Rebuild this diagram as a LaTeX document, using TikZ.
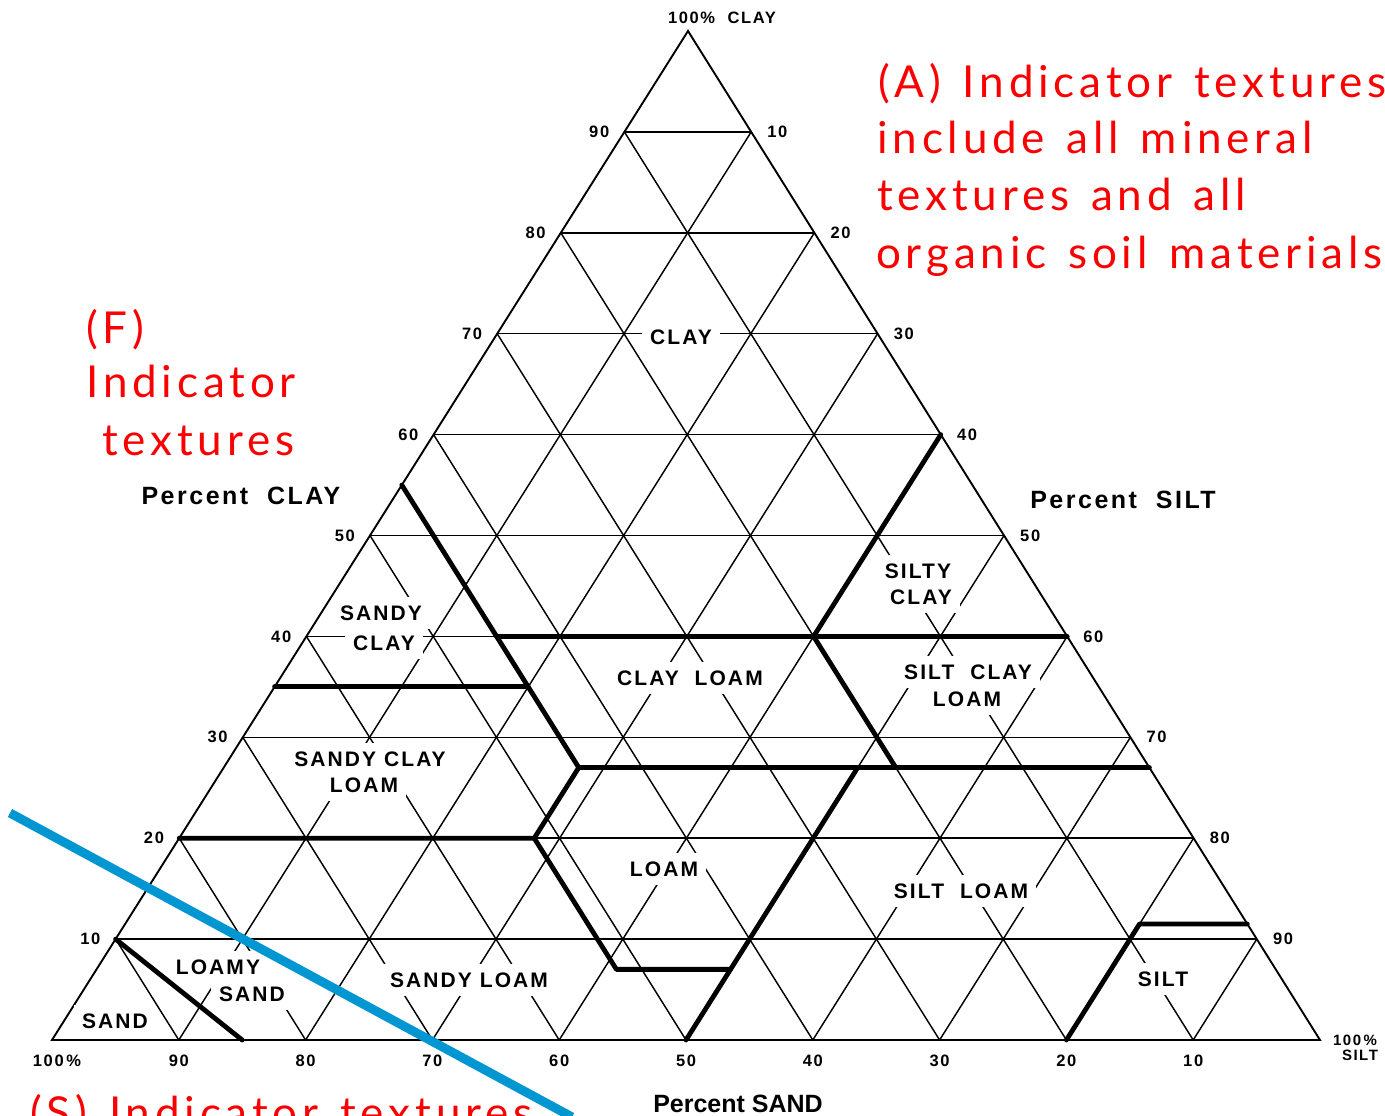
\documentclass[tikz,border=0pt]{standalone}
\usepackage{fontspec}
\setmainfont{Liberation Sans}
\newfontfamily\redfont[LetterSpace=11,WordSpace=1.35]{Lato}
\newfontfamily\lblfont[LetterSpace=10]{Liberation Sans}
\newfontfamily\plainfont{Liberation Sans}
\definecolor{bluel}{RGB}{0,150,210}
\definecolor{redl}{RGB}{250,0,0}
% ternary point: name, clay, silt
\newcommand{\tpc}[3]{\coordinate (#1) at ({52+12.68*(#3)+6.36*(#2)},{1040-10.09*(#2)});}
\begin{document}
\begin{tikzpicture}[x=1pt,y=-1pt,
  gridline/.style={line width=1.45pt},
  outline/.style={line width=1.9pt, line join=miter},
  bound/.style={line width=4.8pt, line cap=round, line join=round},
  cls/.style={font=\lblfont\bfseries\fontsize{21}{21}\selectfont, fill=white, inner xsep=8pt, inner ysep=9pt},
  tick/.style={font=\lblfont\bfseries\fontsize{16.5}{16.5}\selectfont, inner sep=0pt},
  axislbl/.style={font=\lblfont\bfseries\fontsize{25}{25}\selectfont, inner sep=0pt},
  redtxt/.style={font=\redfont\fontsize{44}{44}\selectfont, text=redl, anchor=base west, inner sep=0pt},
  blueline/.style={line width=9pt, draw=bluel}
]
\useasboundingbox (0,0) rectangle (1385,1116);
\fill[white] (0,0) rectangle (1385,1116);

% corners
\tpc{L}{0}{0}
\tpc{R}{0}{100}
\tpc{A}{100}{0}

% grid
\foreach \v in {10,20,...,90}{
  \tpc{ca}{\v}{0}\tpc{cb}{\v}{100-\v}
  \draw[gridline] (ca) -- (cb);
  \tpc{sa}{0}{\v}\tpc{sb}{100-\v}{\v}
  \draw[gridline] (sa) -- (sb);
  \tpc{da}{100-\v}{0}\tpc{db}{0}{100-\v}
  \draw[gridline] (da) -- (db);
}
\draw[outline] (L) -- (R) -- (A) -- cycle;
\draw[line width=2.6pt] (L) -- (R);

% class labels (white boxes mask the grid)
\node[cls] (lclay) at (681,337) {CLAY};
\node[cls] (lsc1) at (918,571) {SILTY};
\node[cls] (lsc2) at (921,597) {CLAY};
\node[cls] (lsac1) at (381,613) {SANDY};
\node[cls] (lsac2) at (384,643) {CLAY};
\node[cls] (lcl) at (690,678) {CLAY\ \ LOAM};
\node[cls] (lscl1) at (968,672) {SILT\ \ CLAY};
\node[cls] (lscl2) at (967,699) {LOAM};
\node[cls] (lsacl1) at (370,759) {SANDY CLAY};
\node[cls] (lsacl2) at (364,785) {LOAM};
\node[cls] (lloam) at (664,869) {LOAM};
\node[cls] (lsil) at (961,891) {SILT\ \ LOAM};
\node[cls] (lls1) at (218,967) {LOAMY};
\node[cls] (lls2) at (252,994) {SAND};
\node[cls] (lsand) at (115,1021) {SAND};
\node[cls] (lsl) at (469,980) {SANDY LOAM};
\node[cls] (lsilt) at (1163,979) {SILT};

% texture class boundaries
\tpc{p1}{10}{0}\tpc{p2}{0}{15}
\draw[bound] (p1) -- (p2);
\tpc{q1}{20}{0}\tpc{q2}{20}{28}\tpc{q3}{27}{28}\tpc{q4}{35}{20}\tpc{q5}{55}{0}
\draw[bound] (q1) -- (q2) -- (q3) -- (q4) -- (q5);
\tpc{r1}{35}{0}
\draw[bound] (r1) -- (q4);
\tpc{t1}{40}{15}\tpc{t2}{40}{60}
\draw[bound] (t1) -- (t2);
\tpc{u2}{27}{73}
\draw[bound] (q3) -- (u2);
\tpc{w1}{7}{41}\tpc{w2}{7}{50}
\draw[bound] (q2) -- (w1) -- (w2);
\tpc{m1}{0}{50}\tpc{m2}{27}{50}
\draw[bound] (m1) -- (m2);
\tpc{n1}{27}{53}\tpc{n2}{40}{40}\tpc{n3}{60}{40}
\draw[bound] (n1) -- (n2) -- (n3);
\tpc{k1}{0}{80}\tpc{k2}{11.5}{80}\tpc{k3}{11.5}{88.5}
\draw[bound] (k1) -- (k2) -- (k3);

% tick labels: left side (clay)
\foreach \v in {10,20,...,90}{
  \tpc{tl}{\v}{0}
  \node[tick, anchor=east, xshift=-15pt] (tl\v) at (tl) {\v};
}
% right side (silt)
\foreach \v in {10,20,...,90}{
  \tpc{tr}{100-\v}{\v}
  \node[tick, anchor=west, xshift=16pt] (tr\v) at (tr) {\v};
}
% base (sand)
\foreach \v in {10,20,...,90}{
  \tpc{tb}{0}{100-\v}
  \node[tick] (tb\v) at ([yshift=-21pt]tb) {\v};
}
\node[tick] (tb100) at (57,1061) {100\,\%};
\node[tick, font=\lblfont\bfseries\fontsize{15}{15}\selectfont] (tsilt1) at (1355,1040) {100\,\%};
\node[tick, font=\lblfont\bfseries\fontsize{15}{15}\selectfont] (tsilt2) at (1360,1055) {SILT};
\node[tick] (tclay) at (722,18) {100\%\ \ CLAY};

% axis titles
\node[axislbl] (pclay) at (241,496) {Percent\ \ CLAY};
\node[axislbl] (psilt) at (1123,500) {Percent\ \ SILT};
\node[inner sep=0pt, font=\plainfont\bfseries\fontsize{25}{25}\selectfont] (psand) at (738,1104) {Percent SAND};

% blue line
\coordinate (b1) at (10,813);
\coordinate (b2) at (572,1117);
\draw[blueline] (b1) -- (b2);

% red annotations
\node[redtxt] (a1) at (878,97) {(A) Indicator textures};
\node[redtxt] (a2) at (877,153) {include all mineral};
\node[redtxt] (a3) at (877,210) {textures and all};
\node[redtxt] (a4) at (876,268) {organic soil materials};
\node[redtxt] (f1) at (86,343) {(F)};
\node[redtxt] (f2) at (86,397) {Indicator};
\node[redtxt] (f3) at (102,455) {textures};
\node[redtxt] (s1) at (30,1128) {(S) Indicator textures};
\end{tikzpicture}
\end{document}
